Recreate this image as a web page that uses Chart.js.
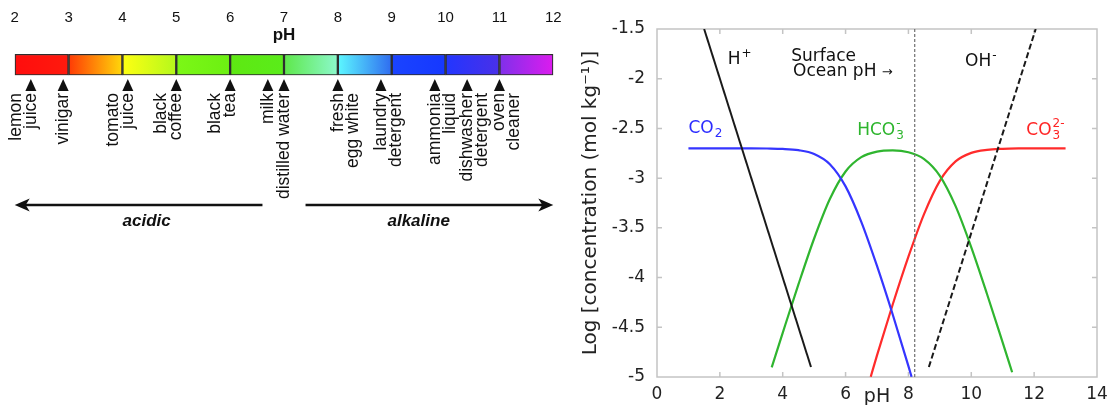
<!DOCTYPE html>
<html lang="en">
<head>
<meta charset="UTF-8">
<title>pH scale and carbonate system</title>
<script src="https://cdn.jsdelivr.net/npm/chart.js"></script>
<style>
  html, body { margin: 0; padding: 0; background: #fff; }
  body { width: 1109px; height: 405px; position: relative; overflow: hidden; }
  #left { position: absolute; left: 0; top: 0; width: 570px; height: 405px; }
  #right { position: absolute; left: 570px; top: 0; width: 539px; height: 405px; }
</style>
</head>
<body>
<div id="left"><canvas id="scaleChart"></canvas></div>
<div id="right"><canvas id="carbChart"></canvas></div>
<script>
// ---- left: pH scale ----
const segStart = [2, 3, 4, 5, 6, 7, 8, 9, 10, 11];
const segColors = [
  ['#ff0d0d', '#ff1a0d'],
  ['#ff3a05', '#ffd80a'],
  ['#ffff12', '#b4f81c'],
  ['#7cf716', '#6cf012'],
  ['#5ee812', '#5aec1a'],
  ['#5ee84a', '#8cf8cc'],
  ['#5cf8ff', '#2f6cf0'],
  ['#1a44ff', '#1638ff'],
  ['#2236ff', '#4a30e8'],
  ['#7f30ea', '#dc1cee']
];
const itemNames = [['lemon', 'juice'], ['vinigar'], ['tomato', 'juice'], ['black', 'coffee'], ['black', 'tea'],
  ['milk'], ['distilled water'], ['fresh', 'egg white'], ['laundry', 'detergent'], ['ammonia', 'liquid'],
  ['dishwasher', 'detergent'], ['oven', 'cleaner']];
const itemPH = [2.3, 2.9, 4.1, 5.0, 6.0, 6.7, 7.0, 8.0, 8.8, 9.8, 10.4, 11.0];
const sideNames = ['acidic', 'alkaline'];
const sideArrows = [[6.6, 2.0], [7.4, 12.0]];
const sideLabelPH = [4.45, 9.5];

// ---- right: carbonate system (log concentration vs pH) ----
const surfacePH = 8.2;
const hPH = [1.5, 4.9], hLog = [-1.5, -4.9];
const ohPH = [8.65, 12.05], ohLog = [-4.9, -1.5];
const co2PH = [1, 1.5, 2, 2.5, 3, 3.5, 4, 4.5, 5, 5.5, 6, 6.5, 7, 7.5, 8, 8.1];
const co2Log = [-2.70, -2.70, -2.70, -2.70, -2.70, -2.702, -2.706, -2.719, -2.757, -2.860, -3.083, -3.439, -3.883, -4.371, -4.890, -4.998];
const hco3PH = [3.65, 4, 4.5, 5, 5.5, 6, 6.5, 7, 7.5, 8, 8.5, 9, 9.5, 10, 10.5, 11, 11.3];
const hco3Log = [-4.903, -4.556, -4.069, -3.607, -3.210, -2.933, -2.789, -2.733, -2.721, -2.740, -2.809, -2.977, -3.282, -3.696, -4.165, -4.655, -4.952];
const co3PH = [6.8, 7, 7.5, 8, 8.5, 9, 9.5, 10, 10.5, 11, 11.5, 12, 12.5, 13];
const co3Log = [-4.998, -4.783, -4.271, -3.790, -3.359, -3.027, -2.832, -2.746, -2.715, -2.705, -2.701, -2.700, -2.700, -2.700];

const LS = '"Liberation Sans", Arial, sans-serif';
const DV = '"DejaVu Sans", Verdana, sans-serif';
const clear = 'rgba(0,0,0,0)';

function segFill(c, i) {
  const chart = c.chart;
  if (!chart.chartArea) return segColors[i][0];
  const xs = chart.scales.x;
  const g = chart.ctx.createLinearGradient(xs.getPixelForValue(segStart[i]), 0, xs.getPixelForValue(segStart[i] + 1), 0);
  g.addColorStop(0, segColors[i][0]);
  g.addColorStop(1, segColors[i][1]);
  return g;
}

function arrow(ctx, x0, x1, y) {
  const dir = Math.sign(x1 - x0);
  ctx.beginPath();
  ctx.moveTo(x0, y);
  ctx.lineTo(x1 - dir * 10, y);
  ctx.stroke();
  ctx.beginPath();
  ctx.moveTo(x1, y);
  ctx.lineTo(x1 - dir * 15, y - 6.5);
  ctx.lineTo(x1 - dir * 11, y);
  ctx.lineTo(x1 - dir * 15, y + 6.5);
  ctx.closePath();
  ctx.fill();
}

const scaleDecor = {
  id: 'scaleDecor',
  afterDraw(chart) {
    const ctx = chart.ctx, xs = chart.scales.x;
    ctx.save();
    ctx.fillStyle = '#111';
    ctx.strokeStyle = '#111';
    ctx.font = 'bold 17px ' + LS;
    ctx.textAlign = 'center';
    ctx.textBaseline = 'alphabetic';
    ctx.fillText('pH', xs.getPixelForValue(7), 40);

    itemPH.forEach((ph, i) => {
      const x = xs.getPixelForValue(ph);
      ctx.beginPath();
      ctx.moveTo(x, 79);
      ctx.lineTo(x - 5.5, 91);
      ctx.lineTo(x + 5.5, 91);
      ctx.closePath();
      ctx.fill();
      const lines = itemNames[i];
      const anchor = ph < 7.5 ? lines.length - 1 : 0;
      ctx.font = '17.5px ' + LS;
      ctx.textAlign = 'right';
      ctx.textBaseline = 'middle';
      lines.forEach((t, k) => {
        ctx.save();
        ctx.translate(x + (k - anchor) * 15, 93);
        ctx.rotate(-Math.PI / 2);
        ctx.fillText(t, 0, 0);
        ctx.restore();
      });
    });

    ctx.lineWidth = 2.5;
    sideArrows.forEach((a, i) => {
      arrow(ctx, xs.getPixelForValue(a[0]), xs.getPixelForValue(a[1]), 205);
      ctx.font = 'italic bold 17px ' + LS;
      ctx.textAlign = 'center';
      ctx.textBaseline = 'middle';
      ctx.fillText(sideNames[i], xs.getPixelForValue(sideLabelPH[i]), 221);
    });
    ctx.restore();
  }
};

new Chart(document.getElementById('scaleChart'), {
  type: 'bar',
  data: {
    labels: ['pH'],
    datasets: segStart.map((s, i) => ({
      data: [[s, s + 1]],
      backgroundColor: c => segFill(c, i),
      borderColor: '#2e2e2e',
      borderWidth: 1.5,
      borderSkipped: false,
      grouped: false,
      barPercentage: 1,
      categoryPercentage: 1
    }))
  },
  options: {
    indexAxis: 'y',
    animation: false,
    responsive: true,
    maintainAspectRatio: false,
    layout: { padding: { left: 14.7, right: 16.7, top: 8, bottom: 329.7 } },
    plugins: { legend: { display: false }, tooltip: { enabled: false } },
    scales: {
      x: {
        type: 'linear', position: 'top', min: 2, max: 12,
        grid: { display: true, drawOnChartArea: false, color: clear, tickLength: 27 },
        border: { display: false },
        ticks: { stepSize: 1, padding: 0, color: '#111', font: { family: LS, size: 15 } },
        afterFit: s => { s.height = 46; }
      },
      y: { display: false }
    }
  },
  plugins: [scaleDecor]
});

// ---- right chart ----
const pts = (xs, ys) => xs.map((v, i) => ({ x: v, y: ys[i] }));

function chem(ctx, x, y, base, sub, sup, size, color) {
  ctx.fillStyle = color;
  ctx.font = size + 'px ' + DV;
  ctx.textAlign = 'left';
  ctx.textBaseline = 'middle';
  ctx.fillText(base, x, y);
  const w = ctx.measureText(base).width;
  ctx.font = Math.round(size * 0.68) + 'px ' + DV;
  if (sub) ctx.fillText(sub, x + w + 1, y + size * 0.32);
  if (sup) ctx.fillText(sup, x + w + 1, y - size * 0.36);
}

const plotDecor = {
  id: 'plotDecor',
  beforeDatasetsDraw(chart) {
    const ctx = chart.ctx, { left, right, top, bottom } = chart.chartArea;
    const xs = chart.scales.x, ys = chart.scales.y;
    ctx.save();
    ctx.strokeStyle = '#c4c4c4';
    ctx.lineWidth = 1.5;
    ctx.strokeRect(left, top, right - left, bottom - top);
    ctx.beginPath();
    xs.ticks.forEach(t => {
      const p = xs.getPixelForValue(t.value);
      if (p <= left + 1 || p >= right - 1) return;
      ctx.moveTo(p, bottom); ctx.lineTo(p, bottom - 5);
      ctx.moveTo(p, top); ctx.lineTo(p, top + 5);
    });
    ys.ticks.forEach(t => {
      const p = ys.getPixelForValue(t.value);
      if (p <= top + 1 || p >= bottom - 1) return;
      ctx.moveTo(left, p); ctx.lineTo(left + 5, p);
      ctx.moveTo(right, p); ctx.lineTo(right - 5, p);
    });
    ctx.stroke();
    ctx.restore();
  },
  afterDraw(chart) {
    const ctx = chart.ctx, xs = chart.scales.x, ys = chart.scales.y;
    const X = v => xs.getPixelForValue(v), Y = v => ys.getPixelForValue(v);
    ctx.save();
    chem(ctx, X(2.25), Y(-1.81), 'H', null, '+', 17, '#111');
    chem(ctx, X(9.8), Y(-1.83), 'OH', null, '-', 17, '#111');
    ctx.fillStyle = '#111';
    ctx.font = '17px ' + DV;
    ctx.textAlign = 'left';
    ctx.textBaseline = 'middle';
    ctx.fillText('Surface', X(4.27), Y(-1.78));
    ctx.fillText('Ocean pH', X(4.33), Y(-1.93));
    const w = ctx.measureText('Ocean pH ').width;
    ctx.font = '13px ' + DV;
    ctx.fillText('\u2192', X(4.33) + w, Y(-1.93) + 1);
    chem(ctx, X(1.0), Y(-2.5), 'CO', '2', null, 17, '#2b2bff');
    chem(ctx, X(6.37), Y(-2.52), 'HCO', '3', '-', 17, '#2db52d');
    chem(ctx, X(11.75), Y(-2.52), 'CO', '3', '2-', 17, '#ff2424');
    ctx.fillStyle = '#222';
    ctx.font = '19px ' + DV;
    ctx.textAlign = 'center';
    ctx.fillText('pH', X(7), 397);
    ctx.restore();
  }
};

new Chart(document.getElementById('carbChart'), {
  type: 'scatter',
  data: {
    datasets: [
      { data: pts([surfacePH, surfacePH], [-1.5, -5]), borderColor: '#707070', borderWidth: 1.2, borderDash: [3, 2] },
      { data: pts(hPH, hLog), borderColor: '#1a1a1a', borderWidth: 2 },
      { data: pts(ohPH, ohLog), borderColor: '#1a1a1a', borderWidth: 2, borderDash: [6, 3] },
      { data: pts(co2PH, co2Log), borderColor: '#3535ff', borderWidth: 2.2, cubicInterpolationMode: 'monotone' },
      { data: pts(hco3PH, hco3Log), borderColor: '#2fb52f', borderWidth: 2.2, cubicInterpolationMode: 'monotone' },
      { data: pts(co3PH, co3Log), borderColor: '#ff2b2b', borderWidth: 2.2, cubicInterpolationMode: 'monotone' }
    ].map(d => Object.assign({ showLine: true, pointRadius: 0, fill: false }, d))
  },
  options: {
    animation: false,
    responsive: true,
    maintainAspectRatio: false,
    layout: { padding: { left: 0, right: 12, top: 29, bottom: 0 } },
    plugins: { legend: { display: false }, tooltip: { enabled: false } },
    scales: {
      x: {
        type: 'linear', min: 0, max: 14,
        grid: { display: true, drawOnChartArea: false, color: clear, tickLength: 7 },
        border: { display: false },
        ticks: { stepSize: 2, padding: 0, maxRotation: 0, color: '#222', font: { family: DV, size: 17 } },
        afterFit: s => { s.height = 28; }
      },
      y: {
        type: 'linear', min: -5, max: -1.5,
        grid: { display: false }, border: { display: false },
        ticks: { stepSize: 0.5, padding: 4, color: '#222', font: { family: DV, size: 17 }, callback: v => String(v) },
        title: { display: true, text: 'Log [concentration (mol kg\u207B\u00B9)]', color: '#222', font: { family: DV, size: 20 }, padding: { top: 9, bottom: 0 } },
        afterFit: s => { s.width = 87; }
      }
    }
  },
  plugins: [plotDecor]
});
</script>
</body>
</html>
